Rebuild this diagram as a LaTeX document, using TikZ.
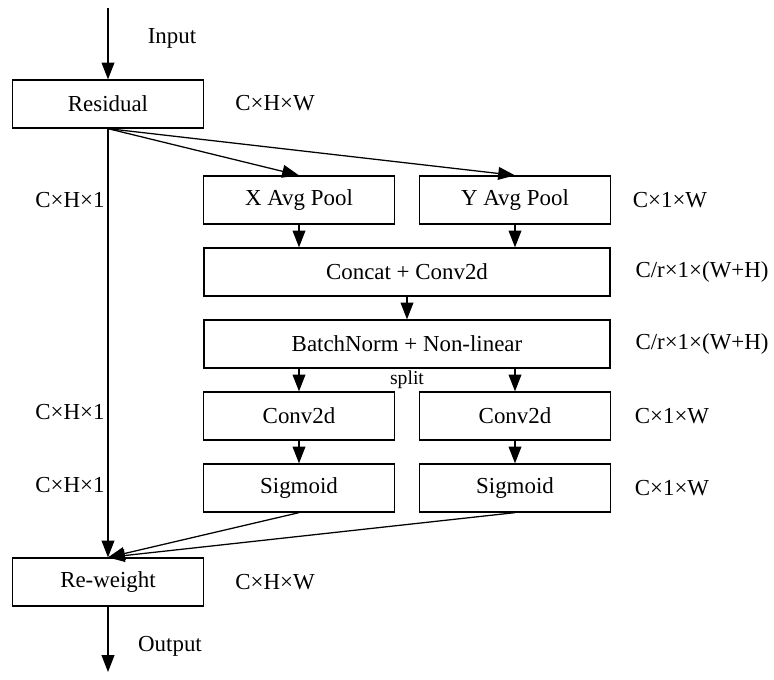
\documentclass[tikz,border=0pt]{standalone}
\usepackage{fontspec}
\setmainfont{Liberation Serif}
\usepackage{tikz}
\usetikzlibrary{positioning}
\usetikzlibrary{arrows.meta}
\tikzstyle{block}=[draw=black,line width=0.9pt,minimum width=4.775cm,minimum height=1.2cm,inner sep=0]
\tikzstyle{wideblock}=[block,minimum width=10.15cm]
\tikzstyle{dim}=[inner sep=0]

\begin{document}
\begin{tikzpicture}[>={Triangle[length=4.2mm,width=3.2mm]}, line width=0.9pt, font=\fontsize{16.3}{19}\selectfont]
    \useasboundingbox (0,0) rectangle (19.35,-16.975);

    \coordinate (in) at (2.7, -0.2);
    \node[block] (res) at (2.7, -2.6) {Residual};
    \node[dim] at (4.3, -0.95) {Input};
    \node[dim] at (6.875, -2.575) {C×H×W};

    \node[block] (xpool) at (7.475, -5) {X Avg Pool};
    \node[block] (ypool) at (12.875, -5) {Y Avg Pool};
    \node[dim] at (16.75, -5) {C×1×W};
    \node[dim] at (1.75, -5) {C×H×1};

    \node[wideblock] (cat) at (10.175, -6.8) {Concat + Conv2d};
    \node[dim] at (17.55, -6.8) {C/r×1×(W+H)};

    \node[wideblock] (bn) at (10.175, -8.6) {BatchNorm + Non-linear};
    \node[dim] at (17.55, -8.6) {C/r×1×(W+H)};
    \node[dim, font=\fontsize{14}{16}\selectfont] at (10.175, -9.5) {split};

    \node[block] (convx) at (7.475, -10.4) {Conv2d};
    \node[block] (convy) at (12.875, -10.4) {Conv2d};
    \node[dim] at (16.8, -10.4) {C×1×W};
    \node[dim] at (1.75, -10.3) {C×H×1};

    \node[block] (sigx) at (7.475, -12.2) {Sigmoid};
    \node[block] (sigy) at (12.875, -12.2) {Sigmoid};
    \node[dim] at (16.8, -12.2) {C×1×W};
    \node[dim] at (1.75, -12.125) {C×H×1};

    \node[block] (rew) at (2.7, -14.55) {Re-weight};
    \node[dim] at (6.875, -14.55) {C×H×W};
    \coordinate (out) at (2.7, -16.8);
    \node[dim] at (4.25, -16.15) {Output};

    \draw[->] (in) -- (res);
    \draw[->] (res.south) -- (xpool.north);
    \draw[->] (res.south) -- (ypool.north);
    \draw[->] (res) -- (rew);
    \draw[->] (xpool) -- (xpool |- cat.north);
    \draw[->] (ypool) -- (ypool |- cat.north);
    \draw[->] (cat) -- (bn);
    \draw[->] (bn.south -| convx) -- (convx);
    \draw[->] (bn.south -| convy) -- (convy);
    \draw[->] (convx) -- (sigx);
    \draw[->] (convy) -- (sigy);
    \draw[->] (sigx.south) -- (rew.north);
    \draw[->] (sigy.south) -- (rew.north);
    \draw[->] (rew) -- (out);
  \end{tikzpicture}
\end{document}
